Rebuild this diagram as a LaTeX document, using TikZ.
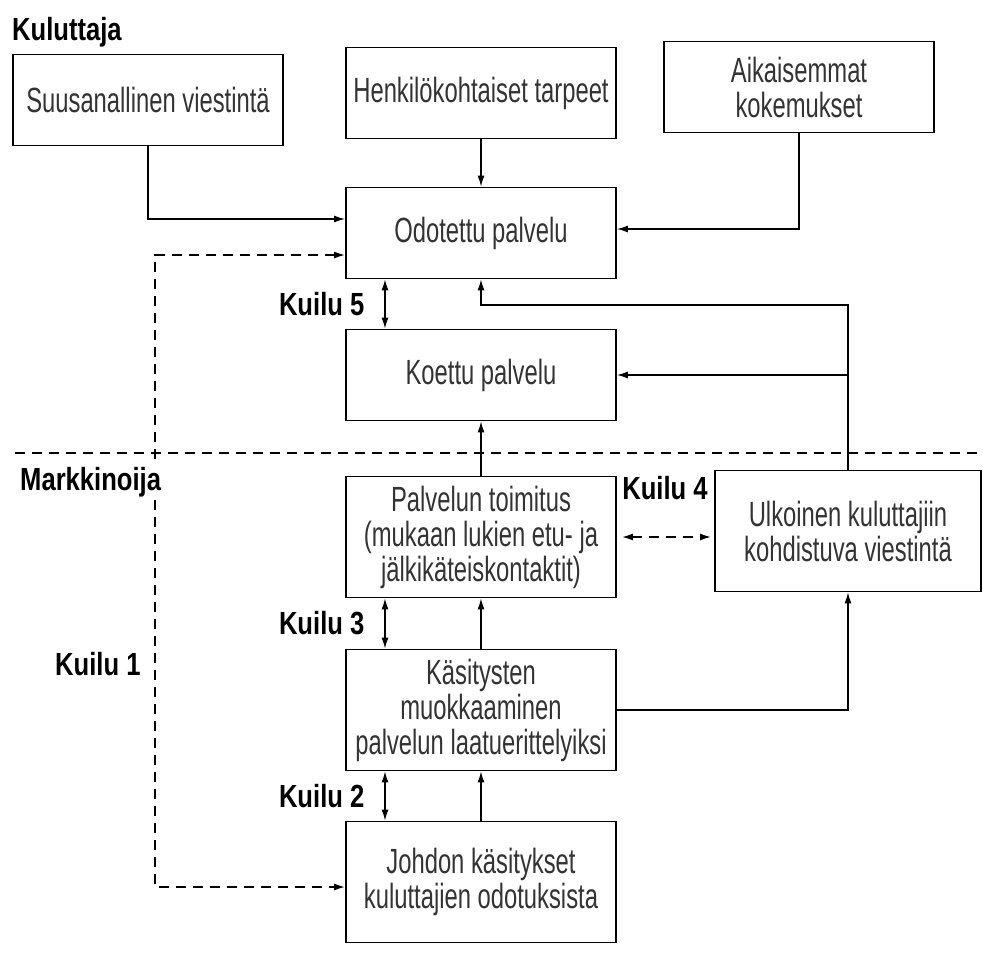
\documentclass[tikz,border=0pt]{standalone}
\usepackage{fontspec}
\setmainfont{Liberation Sans}
\newfontfamily\boxfont[FakeStretch=0.68]{Liberation Sans}
\newfontfamily\labfont[FakeStretch=0.8]{Liberation Sans}
\usetikzlibrary{arrows.meta,calc}
\definecolor{ink}{gray}{0.2}

\begin{document}
\begin{tikzpicture}[
	x=1pt, y=-1pt,
	>={Latex[length=11pt, width=7pt]},
	BoxStyle/.style={draw, line width=1.8pt, minimum width=270pt, minimum height=91pt,
		inner sep=0pt, align=center, text=ink, font=\boxfont\fontsize{35}{35}\selectfont},
	TallBox/.style={BoxStyle, minimum height=121pt},
	LabStyle/.style={font=\labfont\bfseries\fontsize{32}{34}\selectfont, inner sep=0pt},
	LinkStyle/.style={line width=1.3pt},
	GapStyle/.style={line width=1.6pt, dash pattern=on 10pt off 7pt},
	]
	\useasboundingbox (0,0) rectangle (983,956);

	% Kuluttaja
	\node [LabStyle, anchor=base west] (kul) at (12,40) {Kuluttaja};
	\node [BoxStyle] (suu) at (148,100) {Suusanallinen viestintä};
	\node [BoxStyle] (hen) at (481,93) {Henkilökohtaiset tarpeet};
	\node [BoxStyle] (aik) at (799,87) {Aikaisemmat\\kokemukset};
	\node [BoxStyle] (odo) at (481,233) {Odotettu palvelu};
	\node [BoxStyle] (koe) at (481,375) {Koettu palvelu};

	% Markkinoija
	\node [TallBox] (pal) at (481,537) {Palvelun toimitus\\(mukaan lukien etu- ja\\jälkikäteiskontaktit)};
	\node [TallBox, minimum width=266pt] (ulk) at (848,531) {Ulkoinen kuluttajiin\\kohdistuva viestintä};
	\node [TallBox] (kas) at (481,710) {Käsitysten\\muokkaaminen\\palvelun laatuerittelyiksi};
	\node [TallBox] (joh) at (481,882) {Johdon käsitykset\\kuluttajien odotuksista};

	\draw [LinkStyle,->] (suu.south) |- ([yshift=14pt]odo.west);
	\draw [LinkStyle,->] (hen.south) -- (odo.north);
	\draw [LinkStyle,->] (aik.south) |- ([yshift=4pt]odo.east);
	\coordinate (fb) at (848,305);
	\draw [LinkStyle,->] (ulk.north) -- (fb) -| (odo.south);
	\draw [LinkStyle,->] (fb |- koe.east) -- (koe.east);
	\draw [LinkStyle,->] (pal.north) -- (koe.south);
	\draw [LinkStyle,->] (kas.north) -- (pal.south);
	\draw [LinkStyle,->] (joh.north) -- (kas.south);
	\draw [LinkStyle,->] (kas.east) -| (ulk.south);

	% kuilut
	\draw [LinkStyle,<->] ([xshift=-96pt]odo.south) -- ([xshift=-96pt]koe.north)
		node [LabStyle, midway, left=20pt] (k5) {Kuilu 5};
	\draw [LinkStyle,<->] ([xshift=-96pt]pal.south) -- ([xshift=-96pt]kas.north)
		node [LabStyle, midway, left=20pt] (k3) {Kuilu 3};
	\draw [LinkStyle,<->] ([xshift=-96pt]kas.south) -- ([xshift=-96pt]joh.north)
		node [LabStyle, midway, left=20pt] (k2) {Kuilu 2};
	\draw [GapStyle,<->, shorten <=5pt, shorten >=3pt] (pal.east) -- (pal.east -| ulk.west);
	\node [LabStyle] (k4) at (665,488) {Kuilu 4};

	\coordinate (k1c) at (155,887);
	\draw [GapStyle,<->] ([yshift=-22pt]odo.west) -| (k1c) -- ([yshift=-5pt]joh.west);
	\node [LabStyle, anchor=base west] (k1) at (55,675) {Kuilu 1};

	\draw [GapStyle] (15,453) -- (983,453);
	\node [LabStyle, anchor=base west, fill=white, inner sep=2pt] (mar) at (18,490) {Markkinoija};
\end{tikzpicture}
\end{document}
